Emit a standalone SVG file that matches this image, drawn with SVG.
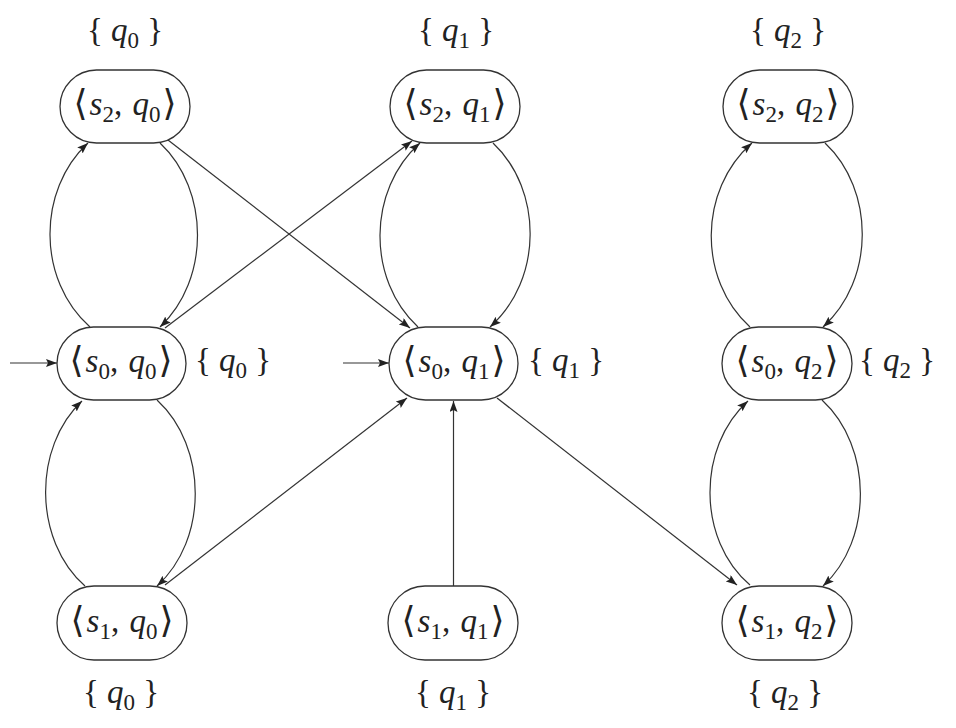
<svg xmlns="http://www.w3.org/2000/svg" width="956" height="728" viewBox="0 0 956 728">
<style>
.node rect{fill:#fff;stroke:#333;stroke-width:1.3}
text{font-family:"Liberation Serif",serif;font-size:33px;fill:#222;text-anchor:middle}
.i{font-style:italic}
.sub{font-size:23px;font-style:normal}
.br{font-family:"DejaVu Serif",serif;font-size:36px}
.edges path{fill:none;stroke:#333;stroke-width:1.2;marker-end:url(#ah)}
</style>
<defs>
<marker id="ah" markerUnits="userSpaceOnUse" markerWidth="13" markerHeight="9" refX="11" refY="4" orient="auto">
<path d="M0,0 L11,4 L0,8 L2,4 z" fill="#222"/>
</marker>
</defs>
<g class="edges">
<path d="M90,327 C37,280 37,190 88,143"/>
<path d="M160,143 C210,190 210,280 160,327"/>
<path d="M168,140 L410,328"/>
<path d="M165,328 L412,141"/>
<path d="M157,400 C208,447 208,540 157,586"/>
<path d="M85,586 C33,540 33,447 82,401"/>
<path d="M165,585 L407,398"/>
<path d="M418,327 C367,280 367,190 420,143"/>
<path d="M493,143 C543,190 543,280 490,327"/>
<path d="M453.5,586 L453.5,401"/>
<path d="M497,398 L737,585"/>
<path d="M750,327 C698,280 698,190 752,143"/>
<path d="M825,143 C875,190 875,280 823,327"/>
<path d="M822,400 C873,447 873,540 823,586"/>
<path d="M750,585 C697,540 697,447 748,401"/>
<path d="M10,363 L57,363"/>
<path d="M343,363 L389,363"/>
</g>
<g id="n_s2q0" class="node"><rect x="60" y="70" width="130" height="73" rx="36.5"/><text x="125" y="115"><tspan class="br">⟨</tspan><tspan class="i" dx="2">s</tspan><tspan class="sub" dy="7">2</tspan><tspan dy="-7">, </tspan><tspan class="i" dx="2">q</tspan><tspan class="sub" dy="7">0</tspan><tspan class="br" dy="-7" dx="2">⟩</tspan></text></g>
<g id="n_s2q1" class="node"><rect x="390" y="70" width="130" height="73" rx="36.5"/><text x="455" y="115"><tspan class="br">⟨</tspan><tspan class="i" dx="2">s</tspan><tspan class="sub" dy="7">2</tspan><tspan dy="-7">, </tspan><tspan class="i" dx="2">q</tspan><tspan class="sub" dy="7">1</tspan><tspan class="br" dy="-7" dx="2">⟩</tspan></text></g>
<g id="n_s2q2" class="node"><rect x="723" y="70" width="130" height="73" rx="36.5"/><text x="788" y="115"><tspan class="br">⟨</tspan><tspan class="i" dx="2">s</tspan><tspan class="sub" dy="7">2</tspan><tspan dy="-7">, </tspan><tspan class="i" dx="2">q</tspan><tspan class="sub" dy="7">2</tspan><tspan class="br" dy="-7" dx="2">⟩</tspan></text></g>
<g id="n_s0q0" class="node"><rect x="57" y="327" width="129" height="73" rx="36.5"/><text x="121" y="372"><tspan class="br">⟨</tspan><tspan class="i" dx="2">s</tspan><tspan class="sub" dy="7">0</tspan><tspan dy="-7">, </tspan><tspan class="i" dx="2">q</tspan><tspan class="sub" dy="7">0</tspan><tspan class="br" dy="-7" dx="2">⟩</tspan></text></g>
<g id="n_s0q1" class="node"><rect x="389" y="327" width="129" height="73" rx="36.5"/><text x="454" y="372"><tspan class="br">⟨</tspan><tspan class="i" dx="2">s</tspan><tspan class="sub" dy="7">0</tspan><tspan dy="-7">, </tspan><tspan class="i" dx="2">q</tspan><tspan class="sub" dy="7">1</tspan><tspan class="br" dy="-7" dx="2">⟩</tspan></text></g>
<g id="n_s0q2" class="node"><rect x="722" y="327" width="130" height="73" rx="36.5"/><text x="787" y="372"><tspan class="br">⟨</tspan><tspan class="i" dx="2">s</tspan><tspan class="sub" dy="7">0</tspan><tspan dy="-7">, </tspan><tspan class="i" dx="2">q</tspan><tspan class="sub" dy="7">2</tspan><tspan class="br" dy="-7" dx="2">⟩</tspan></text></g>
<g id="n_s1q0" class="node"><rect x="57" y="586" width="130" height="74" rx="37"/><text x="122" y="632"><tspan class="br">⟨</tspan><tspan class="i" dx="2">s</tspan><tspan class="sub" dy="7">1</tspan><tspan dy="-7">, </tspan><tspan class="i" dx="2">q</tspan><tspan class="sub" dy="7">0</tspan><tspan class="br" dy="-7" dx="2">⟩</tspan></text></g>
<g id="n_s1q1" class="node"><rect x="388" y="586" width="130" height="74" rx="37"/><text x="453" y="632"><tspan class="br">⟨</tspan><tspan class="i" dx="2">s</tspan><tspan class="sub" dy="7">1</tspan><tspan dy="-7">, </tspan><tspan class="i" dx="2">q</tspan><tspan class="sub" dy="7">1</tspan><tspan class="br" dy="-7" dx="2">⟩</tspan></text></g>
<g id="n_s1q2" class="node"><rect x="722" y="586" width="130" height="74" rx="37"/><text x="787" y="632"><tspan class="br">⟨</tspan><tspan class="i" dx="2">s</tspan><tspan class="sub" dy="7">1</tspan><tspan dy="-7">, </tspan><tspan class="i" dx="2">q</tspan><tspan class="sub" dy="7">2</tspan><tspan class="br" dy="-7" dx="2">⟩</tspan></text></g>
<g id="labels">
<text x="125" y="41">{ <tspan class="i">q</tspan><tspan class="sub" dy="7">0</tspan><tspan dy="-7"> }</tspan></text>
<text x="456" y="41">{ <tspan class="i">q</tspan><tspan class="sub" dy="7">1</tspan><tspan dy="-7"> }</tspan></text>
<text x="788" y="41">{ <tspan class="i">q</tspan><tspan class="sub" dy="7">2</tspan><tspan dy="-7"> }</tspan></text>
<text x="233" y="371">{ <tspan class="i">q</tspan><tspan class="sub" dy="7">0</tspan><tspan dy="-7"> }</tspan></text>
<text x="566" y="371">{ <tspan class="i">q</tspan><tspan class="sub" dy="7">1</tspan><tspan dy="-7"> }</tspan></text>
<text x="897" y="371">{ <tspan class="i">q</tspan><tspan class="sub" dy="7">2</tspan><tspan dy="-7"> }</tspan></text>
<text x="121" y="703">{ <tspan class="i">q</tspan><tspan class="sub" dy="7">0</tspan><tspan dy="-7"> }</tspan></text>
<text x="453" y="703">{ <tspan class="i">q</tspan><tspan class="sub" dy="7">1</tspan><tspan dy="-7"> }</tspan></text>
<text x="785" y="703">{ <tspan class="i">q</tspan><tspan class="sub" dy="7">2</tspan><tspan dy="-7"> }</tspan></text>
</g>
</svg>
